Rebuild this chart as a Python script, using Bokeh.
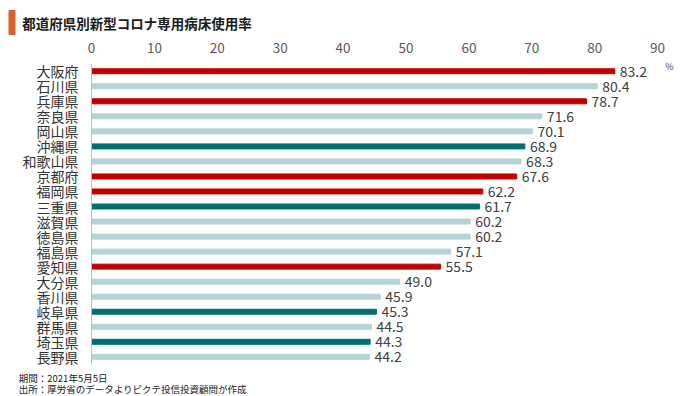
from bokeh.plotting import figure
from bokeh.models import ColumnDataSource, FixedTicker, Range1d
from bokeh.core.properties import value
from bokeh.embed import file_html
from bokeh.resources import INLINE

# ---- data ----
title_text = "都道府県別新型コロナ専用病床使用率"
prefs = ["大阪府", "石川県", "兵庫県", "奈良県", "岡山県", "沖縄県", "和歌山県", "京都府",
         "福岡県", "三重県", "滋賀県", "徳島県", "福島県", "愛知県", "大分県", "香川県",
         "岐阜県", "群馬県", "埼玉県", "長野県"]
rates = [83.2, 80.4, 78.7, 71.6, 70.1, 68.9, 68.3, 67.6, 62.2, 61.7,
         60.2, 60.2, 57.1, 55.5, 49.0, 45.9, 45.3, 44.5, 44.3, 44.2]
status = ["emergency", "other", "emergency", "other", "other", "priority", "other", "emergency",
          "emergency", "priority", "other", "other", "other", "emergency", "other", "other",
          "priority", "other", "priority", "other"]
x_ticks = [0, 10, 20, 30, 40, 50, 60, 70, 80, 90]
unit_label = "%"
notes = ["期間：2021年5月5日", "出所：厚労省のデータよりピクテ投信投資顧問が作成"]

palette = {"emergency": "#C00000", "priority": "#006F6E", "other": "#B5D2D6"}
FONT = "Noto Sans CJK JP"

# ---- geometry (canvas pixels <-> data) ----
W, H = 680, 396
X0_PX, PX_PER_X = 91.0, 6.29       # where value 0 sits, pixels per percentage point
ROW0_PX, PX_PER_ROW = 70.75, 15.03  # centre of first row, row pitch
n = len(prefs)


def xd(px):
    return (px - X0_PX) / PX_PER_X


def yd(px):
    return (px - ROW0_PX) / PX_PER_ROW


rows = list(range(n))
src = ColumnDataSource(dict(
    row=rows, pref=prefs, rate=rates,
    color=[palette[s] for s in status],
    label=[f"{r:.1f}" for r in rates],
))

p = figure(width=W, height=H,
           x_range=Range1d(xd(0), xd(W)),
           y_range=Range1d(yd(H), yd(0)),
           x_axis_location="above", y_axis_location="left",
           output_backend="svg", toolbar_location=None, min_border=0)
p.title.visible = False
p.outline_line_color = None
p.xgrid.visible = False
p.ygrid.visible = False
p.background_fill_color = "white"
p.border_fill_color = "white"

# bars and value labels
p.hbar(y="row", left=0, right="rate", height=0.33, color="color", source=src)
p.text(x="rate", y="row", text="label", source=src, x_offset=5,
       text_font=value(FONT), text_font_size="14px", text_color="#404040",
       text_baseline="middle", text_align="left")

# top value axis, pinned just above the first row
xa = p.xaxis[0]
xa.fixed_location = -0.5
xa.ticker = FixedTicker(ticks=x_ticks)
xa.axis_line_color = None
xa.major_tick_line_color = None
xa.minor_tick_line_color = None
xa.major_tick_out = 0
xa.major_tick_in = 0
xa.major_label_standoff = 11
xa.major_label_text_font = FONT
xa.major_label_text_font_size = "13.5px"
xa.major_label_text_color = "#595959"

# category axis, pinned at value 0
ya = p.yaxis[0]
ya.fixed_location = 0
ya.bounds = (-0.5, n - 0.5)
ya.ticker = FixedTicker(ticks=rows)
ya.major_label_overrides = {i: name for i, name in zip(rows, prefs)}
ya.axis_line_color = "#BFBFBF"
ya.major_tick_line_color = None
ya.minor_tick_line_color = None
ya.major_tick_out = 0
ya.major_tick_in = 0
ya.major_label_standoff = 13
ya.major_label_text_font = FONT
ya.major_label_text_font_size = "14px"
ya.major_label_text_color = "#333333"

# unit label
p.text(x=[xd(669)], y=[yd(65.5)], text=[unit_label], text_font=value(FONT),
       text_font_size="9px", text_color="#404040", text_align="center",
       text_baseline="middle")

# title with accent bar
p.quad(left=[xd(8.5)], right=[xd(14.5)], top=[yd(10)], bottom=[yd(34)],
       color="#D9622B")
p.text(x=[xd(21.7)], y=[yd(22)], text=[title_text], text_font=value(FONT),
       text_font_size="13.5px", text_font_style="bold", text_color="#1A1A1A",
       text_align="left", text_baseline="middle")

# footnotes
p.text(x=[xd(18.3), xd(18.3)], y=[yd(377.5), yd(388.5)], text=notes,
       text_font=value(FONT), text_font_size="9.5px", text_color="#1A1A1A",
       text_align="left", text_baseline="middle")

open("out.html", "w").write(file_html(p, INLINE))
